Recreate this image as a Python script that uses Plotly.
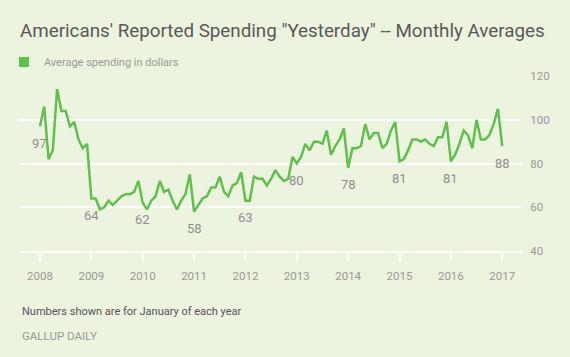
import plotly.graph_objects as go

years = list(range(2008, 2018))
year_labels = [str(y) for y in years]

spending = [
    97, 106, 82, 86, 114, 104, 104, 97, 99, 91, 87, 89,   # 2008
    64, 64, 59, 60, 63, 61, 63, 65, 66, 66, 67, 72,        # 2009
    62, 59, 63, 65, 72, 67, 68, 63, 59, 63, 66, 75,        # 2010
    58, 61, 64, 65, 69, 69, 74, 67, 65, 70, 71, 76,        # 2011
    63, 63, 74, 73, 73, 70, 73, 77, 74, 72, 73, 83,        # 2012
    80, 83, 89, 86, 90, 90, 89, 95, 84, 88, 91, 96,        # 2013
    78, 87, 87, 88, 98, 91, 94, 94, 87, 89, 95, 99,        # 2014
    81, 82, 86, 91, 91, 90, 91, 89, 88, 92, 92, 99,        # 2015
    81, 84, 89, 95, 93, 87, 100, 91, 91, 93, 98, 105,      # 2016
    88,                                                    # 2017
]
months = [2008 + i / 12 for i in range(len(spending))]

y_ticks = [40, 60, 80, 100, 120]
series_name = "Average spending in dollars"

BG = "rgb(236,243,222)"
GREEN = "#61BF4E"
FONT = "Roboto, Liberation Sans, Arial, sans-serif"

fig = go.Figure()
fig.add_trace(go.Scatter(
    x=months, y=spending, mode="lines",
    line=dict(color=GREEN, width=2.5),
    showlegend=False, hoverinfo="x+y",
))
fig.add_trace(go.Scatter(
    x=[None], y=[None], mode="markers", name=series_name,
    marker=dict(symbol="square", size=10, color=GREEN),
    showlegend=True,
))

# January labels
for i in range(0, len(spending), 12):
    fig.add_annotation(
        x=months[i], y=spending[i], text=str(spending[i]),
        showarrow=False, yshift=-17, xanchor="center", yanchor="middle",
        font=dict(size=13, color="#8f8f8f", family=FONT),
    )

fig.add_annotation(
    x=0, y=-0.348, xref="paper", yref="paper", xanchor="left", yanchor="middle",
    text="Numbers shown are for January of each year", showarrow=False,
    font=dict(size=11, color="#555555", family=FONT),
)
fig.add_annotation(
    x=0, y=-0.485, xref="paper", yref="paper", xanchor="left", yanchor="middle",
    text="GALLUP DAILY", showarrow=False,
    font=dict(size=11.5, color="#9a9a9a", family=FONT),
)

fig.update_layout(
    width=570, height=357,
    paper_bgcolor=BG, plot_bgcolor=BG,
    margin=dict(l=20, r=48, t=76, b=106, autoexpand=False),
    font=dict(family=FONT, color="#999999"),
    title=dict(
        text='Americans\' Reported Spending "Yesterday" -- Monthly Averages',
        x=20 / 570, xanchor="left", xref="container",
        y=1 - 30 / 357, yanchor="middle", yref="container",
        font=dict(size=18.8, color="#595959", family=FONT),
    ),
    legend=dict(
        x=-0.032, y=1.08, xanchor="left", yanchor="middle",
        orientation="h", bgcolor="rgba(0,0,0,0)",
        font=dict(size=11, color="#9a9a9a", family=FONT),
        itemwidth=30,
    ),
    xaxis=dict(
        range=[2007.611, 2017.385],
        tickvals=years, ticktext=year_labels,
        showgrid=False, zeroline=False,
        showline=True, linecolor="white", linewidth=2,
        ticks="outside", ticklen=8, tickwidth=2, tickcolor="white",
        ticklabelstandoff=5,
        tickfont=dict(size=11.5, color="#999999"),
        fixedrange=True,
    ),
    yaxis=dict(
        range=[40, 120], side="right",
        tickvals=y_ticks, ticktext=[str(v) for v in y_ticks],
        showgrid=True, gridcolor="white", gridwidth=2,
        zeroline=False, showline=False,
        ticks="outside", ticklen=5, tickcolor="rgba(0,0,0,0)",
        tickfont=dict(size=11.5, color="#999999"),
        fixedrange=True,
    ),
)

fig.write_html(
    "out.html",
    config={"displayModeBar": False},
    post_script="document.body.style.margin='0';document.body.style.overflow='hidden';",
)
